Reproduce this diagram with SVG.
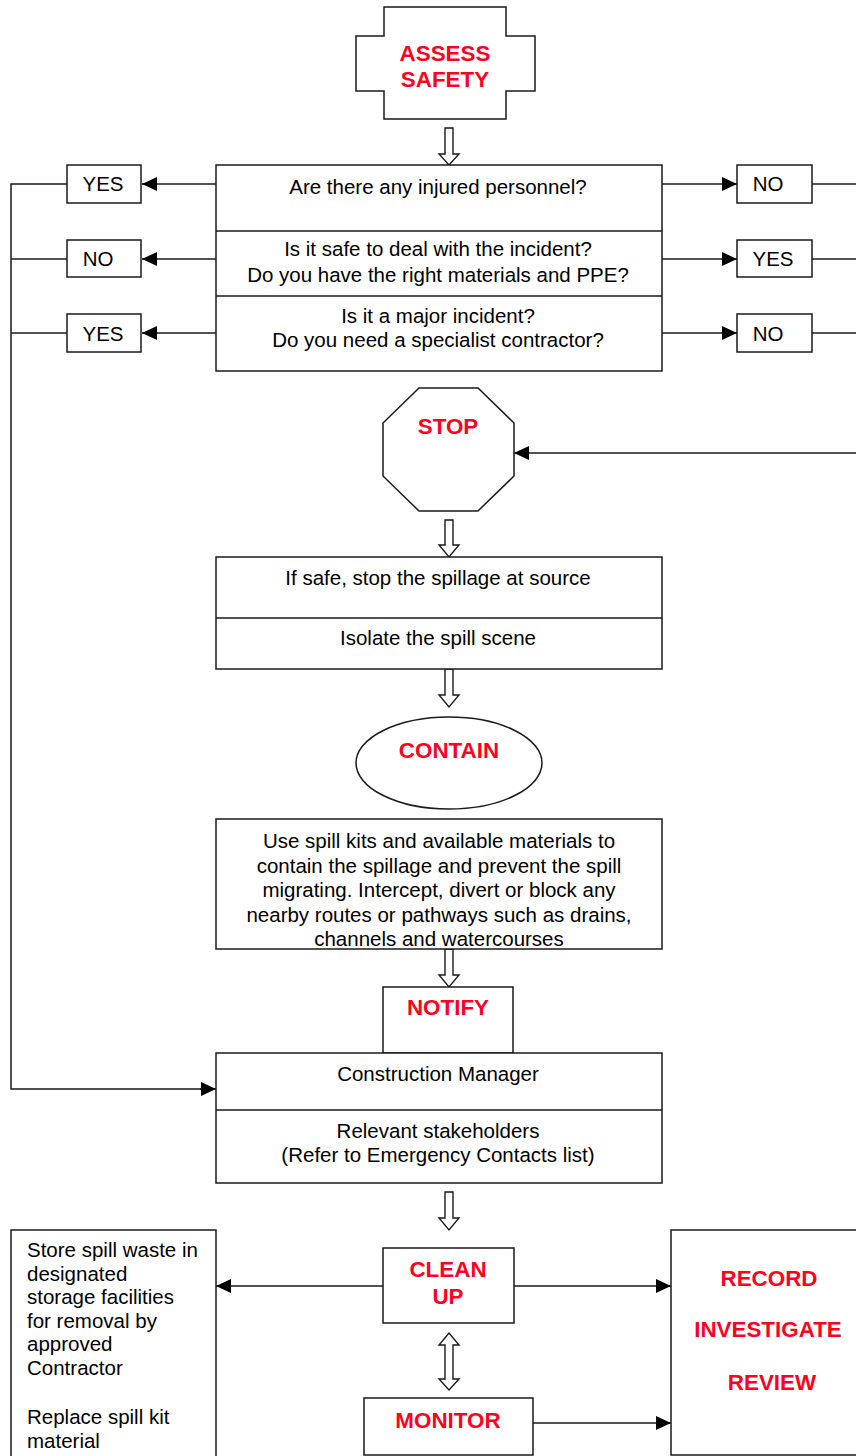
<svg xmlns="http://www.w3.org/2000/svg" width="856" height="1456" viewBox="0 0 856 1456">
<style>
.s{fill:#fff;stroke:#1a1a1a;stroke-width:1.5}
.l{fill:none;stroke:#1a1a1a;stroke-width:1.5}
.h{fill:#fff;stroke:#1a1a1a;stroke-width:1.4;stroke-linejoin:miter}
.t{font-family:"Liberation Sans",Arial,sans-serif;font-size:20.5px;fill:#000;text-anchor:middle}
.tl{font-family:"Liberation Sans",Arial,sans-serif;font-size:20.5px;fill:#000}
.r{font-family:"Liberation Sans",Arial,sans-serif;font-size:22.4px;font-weight:bold;fill:#ff0022;text-anchor:middle}
</style>
<defs>
<marker id="a" markerUnits="userSpaceOnUse" markerWidth="15" markerHeight="14" viewBox="0 0 15 14" refX="15" refY="7" orient="auto">
<path d="M0,0 L15,7 L0,14 Z" fill="#000"/>
</marker>
</defs>
<rect width="856" height="1456" fill="#fff"/>

<g id="connectors">
<line class="l" x1="216" y1="184" x2="142" y2="184" marker-end="url(#a)"/>
<line class="l" x1="216" y1="259" x2="142" y2="259" marker-end="url(#a)"/>
<line class="l" x1="216" y1="333" x2="142" y2="333" marker-end="url(#a)"/>
<polyline class="l" points="67,184 11,184 11,1089 201,1089"/>
<line class="l" x1="200" y1="1089" x2="216" y2="1089" marker-end="url(#a)"/>
<line class="l" x1="67" y1="259" x2="11" y2="259"/>
<line class="l" x1="67" y1="333" x2="11" y2="333"/>
<line class="l" x1="662" y1="184" x2="737" y2="184" marker-end="url(#a)"/>
<line class="l" x1="662" y1="259" x2="737" y2="259" marker-end="url(#a)"/>
<line class="l" x1="662" y1="333" x2="737" y2="333" marker-end="url(#a)"/>
<line class="l" x1="812" y1="184" x2="858" y2="184"/>
<line class="l" x1="812" y1="259" x2="858" y2="259"/>
<line class="l" x1="812" y1="333" x2="858" y2="333"/>
<line class="l" x1="858" y1="453" x2="514" y2="453" marker-end="url(#a)"/>
<line class="l" x1="383" y1="1286" x2="216" y2="1286" marker-end="url(#a)"/>
<line class="l" x1="514" y1="1286" x2="671" y2="1286" marker-end="url(#a)"/>
<line class="l" x1="533" y1="1423" x2="671" y2="1423" marker-end="url(#a)"/>
<path class="h" d="M445,128 L453,128 L453,154 L459,154 L449,165 L439,154 L445,154 Z"/>
<path class="h" d="M445,520 L453,520 L453,545 L459,545 L449,557 L439,545 L445,545 Z"/>
<path class="h" d="M445,669 L453,669 L453,695 L459,695 L449,707 L439,695 L445,695 Z"/>
<path class="h" d="M445,949 L453,949 L453,975 L459,975 L449,987 L439,975 L445,975 Z"/>
<path class="h" d="M445,1192 L453,1192 L453,1218 L459,1218 L449,1230 L439,1218 L445,1218 Z"/>
<path class="h" d="M449,1333 L459,1345 L453,1345 L453,1379 L459,1379 L449,1390 L439,1379 L445,1379 L445,1345 L439,1345 Z"/>
</g>

<g id="assess">
<polygon class="s" points="384,7 506,7 506,36 535,36 535,91 506,91 506,119 384,119 384,91 356,91 356,36 384,36"/>
<text class="r" x="445" y="61">ASSESS</text>
<text class="r" x="445" y="87">SAFETY</text>
</g>

<g id="questions">
<rect class="s" x="216" y="165" width="446" height="206"/>
<line class="l" x1="216" y1="231" x2="662" y2="231"/>
<line class="l" x1="216" y1="296" x2="662" y2="296"/>
<text class="t" x="438" y="194">Are there any injured personnel?</text>
<text class="t" x="438" y="256">Is it safe to deal with the incident?</text>
<text class="t" x="438" y="282">Do you have the right materials and PPE?</text>
<text class="t" x="438" y="323">Is it a major incident?</text>
<text class="t" x="438" y="347">Do you need a specialist contractor?</text>
</g>

<g id="left-yes1"><rect class="s" x="67" y="165" width="74" height="38"/><text class="t" x="103" y="191">YES</text></g>
<g id="left-no"><rect class="s" x="67" y="240" width="74" height="37"/><text class="t" x="98" y="266">NO</text></g>
<g id="left-yes2"><rect class="s" x="67" y="314" width="74" height="38"/><text class="t" x="103" y="341">YES</text></g>
<g id="right-no1"><rect class="s" x="737" y="165" width="75" height="38"/><text class="t" x="768" y="191">NO</text></g>
<g id="right-yes"><rect class="s" x="737" y="240" width="75" height="37"/><text class="t" x="773" y="266">YES</text></g>
<g id="right-no2"><rect class="s" x="737" y="314" width="75" height="38"/><text class="t" x="768" y="341">NO</text></g>

<g id="stop">
<polygon class="s" points="419,388 478,388 514,423 514,476 478,511 419,511 383,476 383,423"/>
<text class="r" x="448" y="434">STOP</text>
</g>

<g id="stop-actions">
<rect class="s" x="216" y="557" width="446" height="112"/>
<line class="l" x1="216" y1="618" x2="662" y2="618"/>
<text class="t" x="438" y="585">If safe, stop the spillage at source</text>
<text class="t" x="438" y="645">Isolate the spill scene</text>
</g>

<g id="contain">
<ellipse class="s" cx="449" cy="763" rx="93" ry="46"/>
<text class="r" x="449" y="758">CONTAIN</text>
</g>

<g id="contain-actions">
<rect class="s" x="216" y="819" width="446" height="130"/>
<text class="t" x="439" y="848">Use spill kits and available materials to</text>
<text class="t" x="439" y="873">contain the spillage and prevent the spill</text>
<text class="t" x="439" y="897">migrating. Intercept, divert or block any</text>
<text class="t" x="439" y="922">nearby routes or pathways such as drains,</text>
<text class="t" x="439" y="946">channels and watercourses</text>
</g>

<g id="notify">
<rect class="s" x="383" y="987" width="130" height="66"/>
<text class="r" x="448" y="1015">NOTIFY</text>
</g>

<g id="notify-actions">
<rect class="s" x="216" y="1053" width="446" height="130"/>
<line class="l" x1="216" y1="1110" x2="662" y2="1110"/>
<text class="t" x="438" y="1081">Construction Manager</text>
<text class="t" x="438" y="1138">Relevant stakeholders</text>
<text class="t" x="438" y="1162">(Refer to Emergency Contacts list)</text>
</g>

<g id="store">
<rect class="s" x="11" y="1230" width="205" height="240"/>
<text class="tl" x="27" y="1257">Store spill waste in</text>
<text class="tl" x="27" y="1281">designated</text>
<text class="tl" x="27" y="1304">storage facilities</text>
<text class="tl" x="27" y="1328">for removal by</text>
<text class="tl" x="27" y="1351">approved</text>
<text class="tl" x="27" y="1375">Contractor</text>
<text class="tl" x="27" y="1424">Replace spill kit</text>
<text class="tl" x="27" y="1448">material</text>
</g>

<g id="cleanup">
<rect class="s" x="383" y="1248" width="131" height="75"/>
<text class="r" x="448" y="1277">CLEAN</text>
<text class="r" x="448" y="1304">UP</text>
</g>

<g id="monitor">
<rect class="s" x="364" y="1398" width="169" height="57"/>
<text class="r" x="448" y="1428">MONITOR</text>
</g>

<g id="record">
<rect class="s" x="671" y="1230" width="200" height="225"/>
<text class="r" x="769" y="1286">RECORD</text>
<text class="r" x="768" y="1337">INVESTIGATE</text>
<text class="r" x="772" y="1390">REVIEW</text>
</g>
</svg>
